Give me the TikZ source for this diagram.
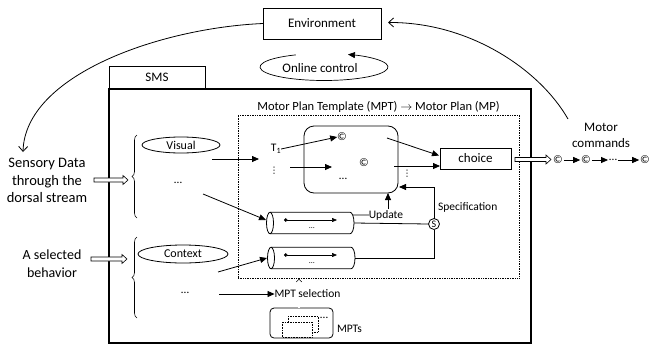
\documentclass[tikz,border=0pt]{standalone}
\usepackage{fontspec}
\setmainfont{Carlito}
\newfontfamily\dejavu{DejaVu Sans}
\usetikzlibrary{arrows.meta,shapes.geometric,decorations.pathreplacing,calc}
\newcommand\fbig{\fontsize{14.5}{17.5}\selectfont}
\newcommand\fmid{\fontsize{13}{16}\selectfont}
\newcommand\fsm{\fontsize{11.5}{13}\selectfont}
% hollow block arrow: start x, y, length
\newcommand\hollowarr[3]{\draw[line width=0.6pt,fill=white] (#1,#2-2) -- ++(#3-5,0) -- ++(0,-2.5) -- ++(5,4.5) -- ++(-5,4.5) -- ++(0,-2.5) -- ++(-#3+5,0) -- cycle;}
\begin{document}
\begin{tikzpicture}[x=1pt,y=-1pt,line width=0.8pt,
  every node/.style={inner sep=0pt,outer sep=0pt},
  arr/.style={-{Triangle[length=7pt,width=6pt]}},
  barb/.style={-{Straight Barb[length=5pt,width=9pt]}},
  boxst/.style={draw},
  ell/.style={draw,ellipse},
  dbl/.style={double,double distance=1.6pt,line width=0.5pt},
  sm/.style={font=\fsm},
  tiny/.style={font=\fontsize{8}{8}\selectfont},
  idots/.style={font=\dejavu\fontsize{9}{9}\selectfont},
  inarr/.style={{Circle[length=3.5pt]}-{Triangle[length=5pt,width=4pt]},line width=0.6pt},
  cylnode/.style={minimum width=80,minimum height=21.5},
  ]
\useasboundingbox (0,0) rectangle (660,348);

% Environment and online control
\node[boxst,font=\fmid,minimum width=118,minimum height=31] (env) at (322,23.5) {Environment};
\node[font=\fmid] (oc) at (320,68) {Online control};
\coordinate (occ) at (324,67);
\draw[-{Triangle[length=7pt,width=6pt]},line width=0.7pt] ($(occ)+(244:64 and 13.5)$) arc[start angle=244,end angle=-68,x radius=64,y radius=13.5];

% SMS
\node[boxst,font=\fmid,minimum width=96,minimum height=23] (sms) at (157,77.5) {SMS};
\node[draw,line width=1.1pt,minimum width=422,minimum height=254] (main) at (320,216) {};

% MPT dotted box
\node[draw,densely dotted,line width=0.7pt,minimum width=281,minimum height=163] (mptbox) at (378.5,196.5) {};
\node[font=\fontsize{12.5}{15}\selectfont] (title) at (378.5,106.5) {Motor Plan Template (MPT) $\rightarrow$ Motor Plan (MP)};

% rounded box
\node[draw,rounded corners=10pt,minimum width=94,minimum height=67] (rb) at (351,159.5) {};
\node[sm] (c1) at (342,137) {©};
\node[sm] (c2) at (364,163) {©};
\node[sm] (rbd) at (343,179) {…};

\node[sm] (t1) at (276,149) {T\textsubscript{1}};
\node[idots] (vd1) at (274,171) {⋮};
\draw[arr] (t1.east) -- (c1.west);
\coordinate (a0) at (290,167);
\coordinate (a0e) at (332,167);
\draw[arr] (a0) -- (a0e);

% Visual
\node[ell,font=\fontsize{12}{14}\selectfont,minimum width=78,minimum height=16] (vis) at (181,145) {Visual};
\coordinate (v0) at (212,159);
\coordinate (t1in) at (259,159);
\draw[arr] (v0) -- (t1in);
\node[sm] (d1) at (178,183) {…};

% cylinders
\node[cylnode] (cyl1) at (310,223) {};
\draw (cyl1.north west) -- (cyl1.north east) arc[start angle=-90,end angle=90,x radius=4,y radius=10.75] -- (cyl1.south west);
\draw (cyl1.west) ellipse[x radius=3.5,y radius=10.75];
\draw[inarr] ($(cyl1.west)+(14,-3)$) -- ($(cyl1.west)+(67,-3)$);
\node[tiny] at ($(cyl1.center)+(2,5)$) {…};

\node[cylnode] (cyl2) at (311,258) {};
\draw (cyl2.north west) -- (cyl2.north east) arc[start angle=-90,end angle=90,x radius=4,y radius=10.75] -- (cyl2.south west);
\draw (cyl2.west) ellipse[x radius=3.5,y radius=10.75];
\draw[inarr] ($(cyl2.west)+(13,-3)$) -- ($(cyl2.west)+(66,-3)$);
\node[tiny] at ($(cyl2.center)+(1,5)$) {…};

\coordinate (d1o) at (203,194);
\draw[arr] (d1o) -- ($(cyl1.west)+(-4,-3)$);

% Update / Specification
\node[sm] (upd) at (386,215) {Update};
\draw ($(cyl1.north east)+(2.7,2.8)$) -- (upd.west);
\coordinate (ua) at ($(upd.north)+(2,-1)$);
\draw[arr] (ua) -- (ua |- rb.south);
\node[draw,circle,minimum size=11,font=\fontsize{10}{10}\selectfont] (S) at (434,224) {S};
\draw ($(cyl1.east)+(4,0)$) -- (S.west);
\draw ($(cyl2.east)+(4,0)$) -| (S.south);
\coordinate (rbin) at (399,187);
\draw[arr] (S.north) |- (rbin);
\node[sm,anchor=west] (spec) at (438,207) {Specification};

% choice
\node[boxst,font=\fmid,minimum width=71,minimum height=21] (choice) at (475.5,158.5) {choice};
\coordinate (a1) at (387,138);
\draw[arr] (a1) -- ($(choice.west)+(-1,-3)$);
\coordinate (a2) at (394,166);
\draw[arr] (a2) -- (a2 -| choice.west);
\node[idots] (vd2) at (407,174) {⋮};
\hollowarr{515}{159.5}{36}

% motor command chain
\node[sm] (k1) at (558,160) {©};
\node[sm] (k2) at (586,160) {©};
\node[sm] (k3) at (613,160) {…};
\node[sm] (k4) at (645,160) {©};
\draw[arr,shorten <=1pt,shorten >=1pt] (k1.east) -- (k2.west);
\draw[arr,shorten <=1pt,shorten >=1pt] (k2.east) -- (k3.west);
\draw[arr,shorten <=1pt,shorten >=1pt] (k3.east) -- (k4.west);
\node[font=\fmid,align=center] (mc) at (601,135) {Motor\\commands};
\coordinate (mcin) at (568,119);
\draw[barb] (mcin) .. controls (540,70) and (470,22) .. ($(env.east)+(7,-1)$);

% Sensory data
\node[font=\fbig,align=center] (sd) at (47,180.5) {Sensory Data\\through the\\dorsal stream};
\coordinate (sdin) at (23,152);
\draw[barb] (env.west) .. controls (160,28) and (25,75) .. (sdin);
\hollowarr{94}{180}{34}
\draw[decorate,decoration={brace,amplitude=5pt},line width=0.6pt] (137,218) -- (137,135);

% selected behavior
\node[font=\fontsize{14}{18}\selectfont,align=center] (sb) at (52,264) {A selected\\behavior};
\hollowarr{91}{259}{36}
\draw[decorate,decoration={brace,amplitude=5pt},line width=0.6pt] (137,318) -- (137,237);
\node[ell,font=\fontsize{12}{14}\selectfont,minimum width=90,minimum height=18] (ctx) at (183,254) {Context};
\node[sm] (d2) at (185,293) {…};
\coordinate (c0) at (218,272);
\draw[arr] (c0) -- ($(cyl2.west)+(-4,0)$);

% MPT selection
\node[sm] (sel) at (307.5,294) {MPT selection};
\coordinate (d2o) at (219,294);
\draw[arr] (d2o) -- (sel.west);
\coordinate (up) at (299,287);
\draw[dbl,-{Implies}] (sel.north -| up) -- (up |- mptbox.south);
\node[draw,rounded corners=4pt,minimum width=63,minimum height=30] (mpts) at (301.5,323) {};
\draw[dbl] (mpts.north -| up) -- (sel.south -| up);
\draw[densely dotted,line width=0.6pt] (288,316) rectangle (318,332);
\draw[densely dotted,line width=0.6pt,fill=white] (282,322) rectangle (312,337);
\node[sm] (md) at (324,318) {…};
\node[sm,anchor=west] (mptl) at (337,329) {MPTs};
\end{tikzpicture}
\end{document}
